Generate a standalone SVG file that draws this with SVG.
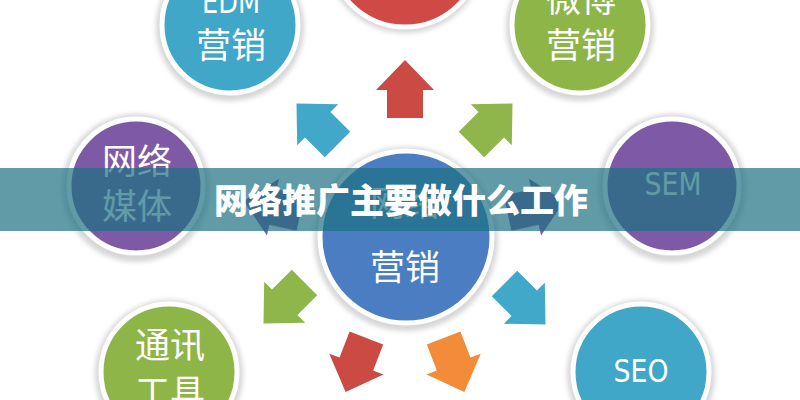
<svg xmlns="http://www.w3.org/2000/svg" xmlns:xlink="http://www.w3.org/1999/xlink" width="800" height="400" viewBox="0 0 800 400">
<defs>
<style>
.lbl{font-family:"Noto Sans CJK SC","Noto Sans",sans-serif;font-size:35px;fill:#ffffff;text-anchor:middle}
.lat{font-family:"DejaVu Sans Condensed","Liberation Sans",sans-serif;font-size:32px;fill:#ffffff;text-anchor:middle}
.ring{fill:#ffffff;stroke:#ffffff;stroke-width:5}
.shadow{fill:#d6d6d6;filter:url(#blur)}
.title{font-family:"Noto Sans CJK SC","Noto Sans",sans-serif;font-size:34px;font-weight:900;fill:#ffffff;text-anchor:middle}
</style>
<filter id="blur" x="-20%" y="-20%" width="140%" height="140%"><feGaussianBlur stdDeviation="2.5"/></filter>
<path id="arr" d="M0,-29 L29,1 L18,1 L18,29 L-18,29 L-18,1 L-29,1 Z"/>
</defs>
<rect width="800" height="400" fill="#ffffff"/>

<g id="connectors">
<use xlink:href="#arr" href="#arr" fill="#cc4a44" transform="translate(405,89)"/>
<use xlink:href="#arr" href="#arr" fill="#41a8c9" transform="translate(317,124) rotate(-45)"/>
<use xlink:href="#arr" href="#arr" fill="#8fb64a" transform="translate(492,124) rotate(45)"/>
<use xlink:href="#arr" href="#arr" fill="#7d5aa5" transform="translate(272,207) rotate(-78)"/>
<use xlink:href="#arr" href="#arr" fill="#7d5aa5" transform="translate(536,207) rotate(78)"/>
<use xlink:href="#arr" href="#arr" fill="#8fb64a" transform="translate(284,303) rotate(-135)"/>
<use xlink:href="#arr" href="#arr" fill="#41a8c9" transform="translate(525,304) rotate(135)"/>
<use xlink:href="#arr" href="#arr" fill="#cc4a44" transform="translate(356,365) rotate(201)"/>
<use xlink:href="#arr" href="#arr" fill="#f28c38" transform="translate(454,365) rotate(159)"/>
</g>

<g id="node-top">
<circle class="shadow" cx="405" cy="-47" r="80"/>
<circle cx="405" cy="-49" r="76" fill="#cf4a44" stroke="#ffffff" stroke-width="5"/>
</g>

<g id="node-edm">
<circle class="shadow" cx="230" cy="27" r="74"/>
<circle cx="230" cy="25" r="68" fill="#40a7c8" stroke="#ffffff" stroke-width="5"/>
<text class="lat" x="231" y="13" textLength="58" lengthAdjust="spacingAndGlyphs">EDM</text>
<text class="lbl" x="231" y="58">营销</text>
</g>

<g id="node-weibo">
<circle class="shadow" cx="580" cy="27" r="74"/>
<circle cx="580" cy="25" r="68" fill="#8eb548" stroke="#ffffff" stroke-width="5"/>
<text class="lbl" x="581" y="12">微博</text>
<text class="lbl" x="581" y="58">营销</text>
</g>

<g id="node-media">
<circle class="shadow" cx="136" cy="188" r="74"/>
<circle cx="136" cy="186" r="67" fill="#7e5aa6" stroke="#ffffff" stroke-width="5"/>
<text class="lbl" x="137" y="174">网络</text>
<text class="lbl" x="137" y="219">媒体</text>
</g>

<g id="node-sem">
<circle class="shadow" cx="672" cy="188" r="74"/>
<circle cx="672" cy="186" r="67" fill="#7e5aa6" stroke="#ffffff" stroke-width="5"/>
<text class="lat" x="673" y="195" textLength="57" lengthAdjust="spacingAndGlyphs">SEM</text>
</g>

<g id="node-tools">
<circle class="shadow" cx="169" cy="374" r="74"/>
<circle cx="169" cy="372" r="68" fill="#8eb548" stroke="#ffffff" stroke-width="5"/>
<text class="lbl" x="170" y="358">通讯</text>
<text class="lbl" x="170" y="405">工具</text>
</g>

<g id="node-seo">
<circle class="shadow" cx="641" cy="374" r="74"/>
<circle cx="641" cy="372" r="68" fill="#40a7c8" stroke="#ffffff" stroke-width="5"/>
<text class="lat" x="641" y="382" textLength="55" lengthAdjust="spacingAndGlyphs">SEO</text>
</g>

<g id="node-center">
<circle class="shadow" cx="406" cy="239" r="92"/>
<circle cx="406" cy="237" r="86" fill="#4a7dc2" stroke="#ffffff" stroke-width="5"/>
<text class="lbl" x="405" y="216">网络</text>
<text class="lbl" x="405" y="280">营销</text>
</g>

<g id="banner">
<rect x="0" y="168" width="800" height="63" fill="#1d7081" fill-opacity="0.7"/>
<text class="title" x="401" y="213">网络推广主要做什么工作</text>
</g>
</svg>
